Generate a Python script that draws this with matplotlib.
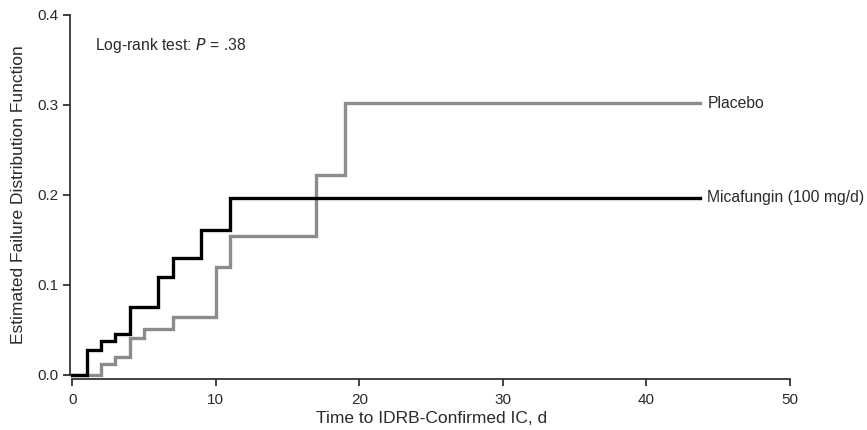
import matplotlib
matplotlib.use("Agg")
import matplotlib.pyplot as plt

# Data
mica_times = [0, 1, 2, 3, 4, 6, 7, 9, 11, 43.7]
mica_values = [0, 0.028, 0.038, 0.046, 0.076, 0.109, 0.130, 0.161, 0.197, 0.197]
placebo_times = [0, 2, 3, 4, 5, 7, 10, 11, 17, 19, 43.7]
placebo_values = [0, 0.012, 0.020, 0.041, 0.051, 0.065, 0.120, 0.155, 0.222, 0.302, 0.302]
x_ticks = [0, 10, 20, 30, 40, 50]
y_ticks = [0.0, 0.1, 0.2, 0.3, 0.4]
y_tick_labels = ["0.0", "0.1", "0.2", "0.3", "0.4"]

plt.rcParams['font.family'] = ['Liberation Sans', 'DejaVu Sans']

fig = plt.figure(figsize=(8.67, 4.30), dpi=100)
ax = fig.add_axes([72.3 / 867, 55 / 430, (790 - 72.3) / 867, (375 - 15) / 430])

gray = '#8c8c8c'
txt = '#2a2a2a'
ax.step(placebo_times, placebo_values, where='post', color=gray, lw=2.4,
        solid_joinstyle='miter', zorder=2, clip_on=False)
ax.step(mica_times, mica_values, where='post', color='black', lw=2.4,
        solid_joinstyle='miter', zorder=3, clip_on=False)

ax.set_xlim(0, 50)
ax.set_ylim(0, 0.4)
ax.set_xticks(x_ticks)
ax.set_yticks(y_ticks)
ax.set_yticklabels(y_tick_labels)

for s in ['top', 'right']:
    ax.spines[s].set_visible(False)
ax.spines['left'].set_position(('outward', 2))
ax.spines['bottom'].set_position(('outward', 3))
for s in ['left', 'bottom']:
    ax.spines[s].set_linewidth(1.2)
    ax.spines[s].set_color('#222222')

ax.tick_params(axis='both', direction='out', length=5, width=1.2, color='#222222',
               labelsize=11, labelcolor=txt)
ax.tick_params(axis='x', pad=5)
ax.tick_params(axis='y', pad=3)

ax.set_xlabel("Time to IDRB-Confirmed IC, d", fontsize=12.5, color=txt, labelpad=3)
ax.set_ylabel("Estimated Failure Distribution Function", fontsize=12.5, color=txt, labelpad=8)

ax.text(44.25, placebo_values[-1], "Placebo", fontsize=11.3, color=txt,
        va='center', ha='left')
ax.text(44.25, mica_values[-1], "Micafungin (100 mg/d)", fontsize=11.3, color=txt,
        va='center', ha='left')
ax.text(1.6, 0.366, r"Log-rank test: $\it{P}$ = .38", fontsize=11.3, color=txt,
        va='center', ha='left')

fig.savefig("out.png", dpi=100)
